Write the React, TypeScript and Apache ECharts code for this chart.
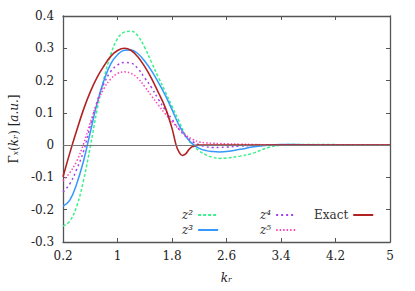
import React, { useEffect, useRef } from "react";
import * as echarts from "echarts";

const kr = [0.2, 0.3, 0.4, 0.5, 0.6, 0.7, 0.8, 0.9, 1.0, 1.1, 1.2, 1.3, 1.4, 1.5, 1.6, 1.7, 1.8, 1.9, 2.0, 2.1, 2.2, 2.3, 2.4, 2.5, 2.6, 2.8, 3.0, 3.2, 3.4, 3.6, 3.8, 4.0, 4.4, 4.8, 5.0];
const z2 = [-0.251, -0.235, -0.19, -0.11, -0.005, 0.11, 0.205, 0.28, 0.33, 0.35, 0.353, 0.338, 0.302, 0.256, 0.21, 0.166, 0.12, 0.075, 0.03, 0.0, -0.018, -0.03, -0.038, -0.041, -0.04, -0.034, -0.024, -0.008, 0.0, 0.002, 0.002, 0.002, 0.001, 0, 0];
const z3 = [-0.189, -0.17, -0.12, -0.05, 0.04, 0.13, 0.2, 0.252, 0.28, 0.294, 0.295, 0.283, 0.26, 0.23, 0.194, 0.155, 0.11, 0.063, 0.028, 0.004, -0.01, -0.017, -0.02, -0.021, -0.02, -0.013, -0.005, 0.0, 0.002, 0.002, 0.001, 0, 0, 0, 0];
const z4 = [-0.145, -0.12, -0.075, -0.02, 0.06, 0.135, 0.19, 0.228, 0.248, 0.256, 0.254, 0.237, 0.208, 0.178, 0.142, 0.109, 0.08, 0.05, 0.027, 0.011, 0.001, -0.005, -0.007, -0.007, -0.006, -0.003, -0.001, 0, 0, 0, 0, 0, 0, 0, 0];
const z5 = [-0.111, -0.085, -0.05, 0.003, 0.07, 0.13, 0.175, 0.205, 0.222, 0.227, 0.222, 0.207, 0.181, 0.152, 0.124, 0.097, 0.073, 0.05, 0.031, 0.018, 0.01, 0.007, 0.006, 0.005, 0.004, 0.003, 0.002, 0.001, 0, 0, 0, 0, 0, 0, 0];
const krExact = [0.2, 0.3, 0.4, 0.5, 0.6, 0.7, 0.8, 0.9, 1.0, 1.1, 1.2, 1.3, 1.4, 1.5, 1.6, 1.7, 1.8, 1.86, 1.9, 1.95, 2.0, 2.05, 2.1, 2.2, 2.4, 2.8, 3.4, 4.0, 5.0];
const exact = [-0.098, -0.024, 0.045, 0.11, 0.165, 0.21, 0.245, 0.275, 0.293, 0.3, 0.293, 0.273, 0.243, 0.206, 0.163, 0.117, 0.052, 0.0, -0.02, -0.032, -0.027, -0.013, -0.004, 0, 0, 0, 0, 0, 0];

const names = ["z²", "z³", "z⁴", "z⁵", "Exact"];
const colors = ["#3cf08a", "#3399ff", "#a040f0", "#ff44b4", "#b22222"];

const FONT = "DejaVu Serif";
const AX = "#555";

const fmt = (v: number) => String(parseFloat(v.toFixed(1)));

export default function App() {
  const ref = useRef<HTMLDivElement>(null);
  useEffect(() => {
    document.body.style.margin = "0";
    const chart = echarts.init(ref.current!, null, { renderer: "svg" });
    const pair = (xs: number[], ys: number[]) => xs.map((x, i) => [x, ys[i]]);
    const mk = (name: string, data: number[][], color: string, type: any, width = 1.5) => ({
      name,
      type: "line",
      data,
      smooth: 0.4,
      symbol: "none",
      lineStyle: { color, width, type },
      itemStyle: { color },
    });
    const legendBase = {
      orient: "vertical",
      align: "right",
      itemWidth: 20,
      itemHeight: 6,
      itemGap: 3,
      itemStyle: { opacity: 0 },
      textStyle: { fontFamily: FONT, fontSize: 12, fontStyle: "italic", color: "#333" },
    };
    const xBase = {
      type: "value",
      min: 0.2,
      max: 5,
      interval: 0.8,
      splitLine: { show: false },
      axisLine: { show: true, onZero: false, lineStyle: { color: AX, width: 1.3 } },
      axisTick: { show: true, inside: true, length: 4, lineStyle: { color: AX } },
    };
    const yBase = {
      type: "value",
      min: -0.3,
      max: 0.4,
      interval: 0.1,
      splitLine: { show: false },
      axisLine: { show: true, onZero: false, lineStyle: { color: AX, width: 1.3 } },
      axisTick: { show: true, inside: true, length: 4, lineStyle: { color: AX } },
    };
    const nameStyle = {
      fontFamily: FONT,
      fontSize: 12,
      color: "#222",
      rich: {
        u: { fontFamily: FONT, fontSize: 12, color: "#222" },
        i: { fontFamily: FONT, fontSize: 12, fontStyle: "italic", color: "#222" },
      },
    };
    chart.setOption({
      animation: false,
      textStyle: { fontFamily: FONT },
      grid: { left: 54, right: 25, top: 16, bottom: 49 },
      legend: [
        { ...legendBase, data: [names[0], names[1]], left: 177, top: 204 },
        { ...legendBase, data: [names[2], names[3]], left: 255, top: 204 },
        { ...legendBase, data: [names[4]], left: 309, top: 204, textStyle: { ...legendBase.textStyle, fontStyle: "normal" } },
      ],
      xAxis: [
        {
          ...xBase,
          position: "bottom",
          axisLabel: { formatter: fmt, fontFamily: FONT, fontSize: 12, color: "#222", margin: 8 },
          name: "{i|kᵣ}",
          nameLocation: "middle",
          nameGap: 30,
          nameTextStyle: nameStyle,
        },
        { ...xBase, position: "top", axisLabel: { show: false } },
      ],
      yAxis: [
        {
          ...yBase,
          position: "left",
          axisLabel: { formatter: fmt, fontFamily: FONT, fontSize: 12, color: "#222", margin: 9 },
          name: "{u|Γ}{i|ₓ}{u|(}{i|kᵣ}{u|) [}{i|a.u.}{u|]}",
          nameLocation: "middle",
          nameGap: 38,
          nameTextStyle: nameStyle,
        },
        { ...yBase, position: "right", axisLabel: { show: false } },
      ],
      series: [
        {
          name: "zero",
          type: "line",
          data: [],
          markLine: {
            silent: true,
            symbol: ["none", "none"],
            label: { show: false },
            lineStyle: { color: "#777", width: 1, type: "solid" },
            data: [{ yAxis: 0 }],
          },
        },
        mk(names[0], pair(kr, z2), colors[0], [3, 2]),
        mk(names[1], pair(kr, z3), colors[1], "solid"),
        mk(names[2], pair(kr, z4), colors[2], [2, 3]),
        mk(names[3], pair(kr, z5), colors[3], [1.5, 2]),
        mk(names[4], pair(krExact, exact), colors[4], "solid", 1.6),
      ],
    });
    return () => chart.dispose();
  }, []);
  return <div ref={ref} style={{ width: 415, height: 291 }} />;
}
